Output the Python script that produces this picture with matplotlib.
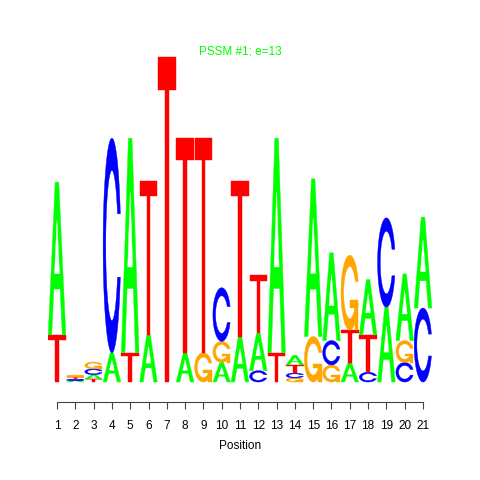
import numpy as np
import matplotlib
matplotlib.use('Agg')
import matplotlib.pyplot as plt

# letter heights (bits) per position
positions = list(range(1, 22))
A = [0.94, 0.008, 0.027, 0.18, 1.32, 0.29, 0.0, 0.18, 0.0, 0.12, 0.28,
     0.23, 1.32, 0.06, 0.97, 0.54, 0.12, 0.34, 0.46, 0.41, 0.56]
C = [0.0, 0.010, 0.036, 1.32, 0.0, 0.0, 0.0, 0.0, 0.0, 0.33, 0.0,
     0.07, 0.0, 0.03, 0.0, 0.15, 0.0, 0.06, 0.55, 0.12, 0.455]
G = [0.0, 0.013, 0.042, 0.0, 0.0, 0.0, 0.0, 0.0, 0.18, 0.13, 0.0,
     0.0, 0.0, 0.025, 0.28, 0.105, 0.46, 0.0, 0.0, 0.135, 0.0]
T = [0.29, 0.012, 0.018, 0.0, 0.18, 0.95, 2.0, 1.32, 1.32, 0.0, 0.96,
     0.36, 0.18, 0.05, 0.0, 0.0, 0.2, 0.23, 0.0, 0.0, 0.0]

colors = {'A': '#00FF00', 'C': '#0000FF', 'G': '#FFA500', 'T': '#FF0000'}
title = 'PSSM #1; e=13'


def shape_a():
    x = np.array([0, 4, 6, 10, 8, 6.8, 3.2, 2, 0]) * 0.1
    y = np.array([0, 10, 10, 0, 0, 3, 3, 0, 0]) * 0.1
    hx = np.array([3.6, 5, 6.4, 3.6]) * 0.1
    hy = np.array([4, 7.5, 4, 4]) * 0.1
    return [(x, y, None), (hx, hy, 'white')]


def shape_t():
    x = np.array([0, 10, 10, 6, 6, 4, 4, 0]) * 0.1
    y = np.array([10, 10, 9, 9, 0, 0, 9, 9]) * 0.1
    return [(x, y, None)]


def c_outline():
    a1 = np.linspace(0.3 + np.pi / 2, np.pi, 100)
    a2 = np.linspace(np.pi, 1.5 * np.pi, 100)
    xl1 = 0.5 + 0.5 * np.sin(a1)
    yl1 = 0.5 + 0.5 * np.cos(a1)
    xl = np.r_[xl1, 0.5 + 0.5 * np.sin(a2)]
    yl = np.r_[yl1, 0.5 + 0.5 * np.cos(a2)]
    x = np.r_[xl, xl[::-1]]
    y = np.r_[yl, 1 - yl[::-1]]

    xi1 = 0.5 + 0.35 * np.sin(a1)
    yi1 = 0.5 + 0.35 * np.cos(a1)
    keep = yi1 <= yl1.max()
    xi1 = xi1[keep]
    yi1 = yi1[keep]
    yi1[0] = yl1.max()
    xi = np.r_[xi1, 0.5 + 0.35 * np.sin(a2)]
    yi = np.r_[yi1, 0.5 + 0.35 * np.cos(a2)]
    x1 = np.r_[xi, xi[::-1]]
    y1 = np.r_[yi, 1 - yi[::-1]]
    return np.r_[x, x1[::-1]], np.r_[y, y1[::-1]], xl1.max()


def shape_c():
    x, y, _ = c_outline()
    return [(x, y, None)]


def shape_g():
    x, y, r1 = c_outline()
    h1 = 0.4
    bx = np.array([r1, 0.5, 0.5, r1 - 0.2, r1 - 0.2, r1, r1])
    by = np.array([h1, h1, h1 - 0.1, h1 - 0.1, 0, 0, h1])
    return [(x, y, None), (bx, by, None)]


shapes = {'A': shape_a(), 'C': shape_c(), 'G': shape_g(), 'T': shape_t()}


def draw_letter(ax, letter, xpos, ypos, ht, wt=0.96):
    for sx, sy, fill in shapes[letter]:
        col = fill if fill else colors[letter]
        ax.fill(xpos + wt * sx, ypos + ht * sy, color=col,
                linewidth=0.3, edgecolor=col)


plt.rcParams['font.family'] = 'Liberation Sans'

fig = plt.figure(figsize=(4.8, 4.8), dpi=100)
ax = fig.add_axes([0.0997, 0.1625, 0.8006, 0.7526])

for i, p in enumerate(positions):
    col = [('A', A[i]), ('C', C[i]), ('G', G[i]), ('T', T[i])]
    col = sorted(col, key=lambda t: t[1])
    y0 = 0.0
    for letter, h in col:
        if h > 0:
            draw_letter(ax, letter, p - 0.48, y0, h)
            y0 += h

ax.set_xlim(0.5, 21.5)
ax.set_ylim(-0.123, 2.1)

for s in ['top', 'right', 'left']:
    ax.spines[s].set_visible(False)
ax.spines['bottom'].set_bounds(1, 21)
ax.spines['bottom'].set_color('#444444')
ax.spines['bottom'].set_linewidth(0.8)
ax.set_yticks([])
ax.set_xticks(positions)
ax.tick_params(axis='x', length=5, width=0.8, color='#444444',
               labelsize=8.5, pad=8)
ax.set_xlabel('Position', fontsize=8.5, labelpad=6)

fig.text(0.5, 0.892, title, color='#00FF00', fontsize=8.5,
         ha='center', va='center')

fig.savefig('out.png', dpi=100)
